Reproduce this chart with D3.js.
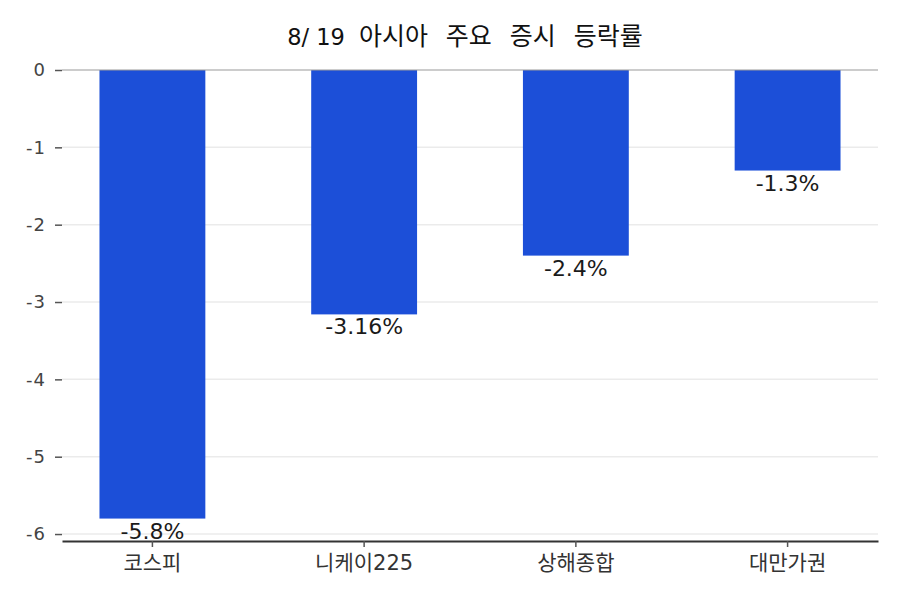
<!DOCTYPE html>
<html><head><meta charset="utf-8">
<script src="https://cdn.jsdelivr.net/npm/d3@7"></script>
<style>body{margin:0;background:#fff}svg{display:block}text{font-family:"DejaVu Sans","Noto Sans CJK KR",sans-serif}</style>
</head><body>
<svg id="c" width="900" height="600"></svg>
<script>
const categories = ["코스피", "니케이225", "상해종합", "대만가권"];
const values = [-5.8, -3.16, -2.4, -1.3];
const valueLabels = ["-5.8%", "-3.16%", "-2.4%", "-1.3%"];
const yTicks = [0, -1, -2, -3, -4, -5, -6];
const titleDate = "8/ 19";
const titleText = " 아시아 주요 증시 등락률";

(function () {
const svg = d3.select("#c");
const mL = 62, mR = 878, mT = 70, mB = 541;
const y = d3.scaleLinear().domain([0, -6.09]).range([mT, mB]);
const x = d3.scaleBand().domain(categories).range([mL, mR]).paddingInner(0.5).paddingOuter(0.177);

// grid
svg.append("g").selectAll("line").data(yTicks.filter(d => d !== 0)).join("line")
  .attr("x1", mL).attr("x2", mR).attr("y1", d => y(d)).attr("y2", d => y(d))
  .attr("stroke", "#ebebeb").attr("stroke-width", 1.5);

// bars
svg.append("g").selectAll("rect").data(values).join("rect")
  .attr("x", (d, i) => x(categories[i])).attr("width", x.bandwidth())
  .attr("y", y(0)).attr("height", d => y(d) - y(0))
  .attr("fill", "#1c4fd8");

// zero line
svg.append("line").attr("x1", mL).attr("x2", mR).attr("y1", y(0)).attr("y2", y(0))
  .attr("stroke", "#999").attr("stroke-width", 1);

// y axis
const ya = svg.append("g").attr("transform", `translate(${mL},0)`)
  .call(d3.axisLeft(y).tickValues(yTicks).tickSize(7).tickPadding(9).tickFormat(d => d === 0 ? "0" : "-" + Math.abs(d)));
ya.select(".domain").remove();
ya.selectAll(".tick line").attr("stroke", "#555").attr("stroke-width", 1.5);
ya.selectAll(".tick text").attr("fill", "#444").style("font-size", "18px").style("letter-spacing", "1px");

// x axis
const xa = svg.append("g").attr("transform", `translate(0,${mB})`)
  .call(d3.axisBottom(x).tickSize(6).tickPadding(8).tickSizeOuter(0));
xa.select(".domain").attr("stroke", "#333").attr("stroke-width", 2);
xa.selectAll(".tick line").attr("stroke", "#555").attr("stroke-width", 1.5);
xa.selectAll(".tick text").attr("fill", "#333").style("font-size", "21px");

// value labels
svg.append("g").selectAll("text").data(values).join("text")
  .attr("x", (d, i) => x(categories[i]) + x.bandwidth() / 2)
  .attr("y", d => y(d) + 20)
  .attr("text-anchor", "middle").attr("fill", "#1a1a1a").style("font-size", "22px")
  .text((d, i) => valueLabels[i]);

// title
const t = svg.append("text").attr("x", 465).attr("y", 45).attr("text-anchor", "middle")
  .attr("fill", "#111").style("font-size", "22.5px");
t.append("tspan").text(titleDate);
t.append("tspan").attr("dx", -4).style("font-size", "25px").style("word-spacing", "10px").text(titleText);
})();
</script>
</body></html>
